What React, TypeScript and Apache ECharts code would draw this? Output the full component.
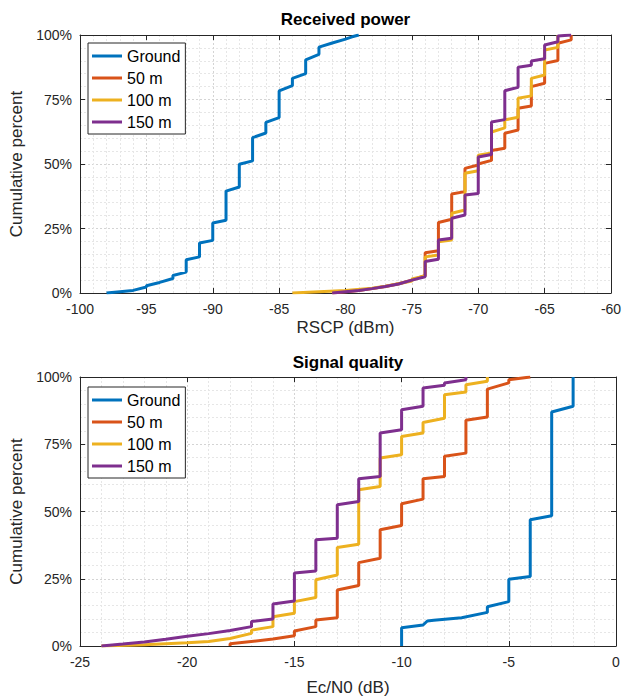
import React, { useEffect, useRef } from "react";
import * as echarts from "echarts";

const seriesNames = ["Ground", "50 m", "100 m", "150 m"];
const colors = ["#0072BD", "#D95319", "#EDB120", "#7E2F8E"];

// Received power (RSCP, dBm) vs cumulative percent
const rscpGround = [[-98,0],[-96,1],[-95,2.3],[-95,2.8],[-94,4.1],[-93,5.6],[-93,6.8],[-92,8.1],[-92,12.9],[-91,14],[-91,19.4],[-90,20.4],[-90,27.1],[-89,28.2],[-89,39.5],[-88,41.1],[-88,49.9],[-87,51.2],[-87,60.2],[-86,62],[-86,66.1],[-85,68],[-85,78.3],[-84,80.4],[-84,83.2],[-83,85],[-83,90.4],[-82,92.5],[-82,95.3],[-81,96.9],[-80,98.4],[-79.5,99.3],[-79,100]];
const rscp50 = [[-81,0],[-80,0.5],[-79,1],[-78,1.7],[-77,2.5],[-76,3.6],[-75,5],[-74,6.8],[-74,15.6],[-73,16.4],[-73,27.3],[-72,28.6],[-72,38.4],[-71,39.3],[-71,48.3],[-70,49.6],[-70,50],[-69,51.4],[-69,55.2],[-68,56.1],[-68,61.9],[-67,63.2],[-67,71.6],[-66,72.5],[-66,80],[-65,81.3],[-65,89],[-64,90.1],[-64,96.8],[-63,98.1],[-63,100]];
const rscp100 = [[-84,0],[-82,0.5],[-80,1],[-78,1.8],[-77,2.6],[-76,3.6],[-75,4.6],[-75,5.4],[-74,6.6],[-74,14],[-73,14.7],[-73,19.9],[-72,20.5],[-72,30.9],[-71,32.2],[-71,46.4],[-70,47.4],[-70,53.4],[-69,54.3],[-69,62.4],[-68,64],[-68,67.1],[-67,68.1],[-67,75.5],[-66,76.4],[-66,83.2],[-65,84.5],[-65,94.2],[-64,95.2],[-64,100]];
const rscp150 = [[-81,0],[-80,0.5],[-79,1],[-78,1.7],[-77,2.5],[-76,3.5],[-75,5],[-74,6.3],[-74,12.2],[-73,13.1],[-73,20.5],[-72,21.2],[-72,29],[-71,30.2],[-71,38],[-70,38.6],[-70,52.7],[-69,53.7],[-69,66.3],[-68,67.2],[-68,78.4],[-67,79.7],[-67,87.5],[-66,88.3],[-66,89.9],[-65,90.8],[-65,96.1],[-64,97.4],[-64,99.6],[-63,100]];

// Signal quality (Ec/N0, dB) vs cumulative percent
const ecnoGround = [[-10,0],[-10,6.8],[-9,7.8],[-8.8,9.3],[-8.5,9.6],[-7.2,10.5],[-6,12.5],[-6,14.6],[-5,16.5],[-5,24.8],[-4,25.8],[-4,46.9],[-3,48.4],[-3,87],[-2,89.1],[-2,100]];
const ecno50 = [[-18,0],[-18,0.8],[-16,2.6],[-15,3.8],[-15,5.6],[-14,7.2],[-14,9.7],[-13,10.5],[-13,20.8],[-12,22.5],[-12,31],[-11,32.6],[-11,43.2],[-10,44.8],[-10,52.9],[-9,54.6],[-9,62.2],[-8,63],[-8,70.5],[-7,71.7],[-7,83.9],[-6,85.1],[-6,95.5],[-5,97.8],[-5,99],[-4,100]];
const ecno100 = [[-24,0],[-22,0.5],[-20,1.2],[-19,1.7],[-18,2.8],[-17,4.7],[-17,5.9],[-16,7.2],[-16,10.9],[-15,12.2],[-15,16.5],[-14,18],[-14,24.6],[-13,26.4],[-13,36.6],[-12,37.8],[-12,58.1],[-11,59.3],[-11,69.9],[-10,71.1],[-10,77.9],[-9,79.2],[-9,83.1],[-8,84.7],[-8,93.4],[-7,94.4],[-7,97.1],[-6,98.4],[-6,100]];
const ecno150 = [[-24,0],[-23,0.7],[-22,1.5],[-21,2.5],[-20,3.6],[-19,4.6],[-18,5.8],[-17,7.2],[-17,9.1],[-16,10],[-16,15.6],[-15,16.7],[-15,27.1],[-14,27.9],[-14,39.5],[-13,40.1],[-13,52.5],[-12,53.7],[-12,62.2],[-11,63],[-11,79.2],[-10,80.4],[-10,87.8],[-9,89.1],[-9,95.9],[-8,96.9],[-8,97.8],[-7,99],[-7,100]];

const topTitle = "Received power";
const bottomTitle = "Signal quality";
const topXName = "RSCP (dBm)";
const bottomXName = "Ec/N0 (dB)";
const yName = "Cumulative percent";

const FONT = "'Liberation Sans', Arial, Helvetica, sans-serif";
const AX = "#262626";

function xAxes(gridIndex: number, min: number, max: number, name: string, title: string, nameGap: number, titleGap: number) {
  const common = {
    gridIndex,
    type: "value",
    min,
    max,
    interval: 5,
    axisLine: { show: true, onZero: false, lineStyle: { color: AX, width: 1 } },
    axisTick: { show: true, inside: true, length: 5, lineStyle: { color: AX } },
    minorTick: { show: false, splitNumber: 5 },
  };
  return [
    {
      ...common,
      position: "bottom",
      name,
      nameLocation: "middle",
      nameGap,
      nameTextStyle: { fontSize: 17, color: AX, fontFamily: FONT },
      axisLabel: { fontSize: 14, color: AX, fontFamily: FONT, margin: 9 },
      splitLine: { show: true, lineStyle: { color: "#d4d4d4", type: [2, 2], width: 1 } },
      minorSplitLine: { show: true, lineStyle: { color: "#e6e6e6", type: [2, 2], width: 1 } },
    },
    {
      ...common,
      position: "top",
      name: title,
      nameLocation: "middle",
      nameGap: titleGap,
      nameTextStyle: { fontSize: 17, fontWeight: "bold", color: "#000", fontFamily: FONT },
      axisLabel: { show: false },
      splitLine: { show: false },
    },
  ];
}

function yAxes(gridIndex: number) {
  const common = {
    gridIndex,
    type: "value",
    min: 0,
    max: 100,
    interval: 25,
    axisLine: { show: true, onZero: false, lineStyle: { color: AX, width: 1 } },
    axisTick: { show: true, inside: true, length: 5, lineStyle: { color: AX } },
    minorTick: { show: false, splitNumber: 5 },
  };
  return [
    {
      ...common,
      position: "left",
      name: yName,
      nameLocation: "middle",
      nameGap: 50,
      nameTextStyle: { fontSize: 17, color: AX, fontFamily: FONT },
      axisLabel: { fontSize: 14, color: AX, fontFamily: FONT, margin: 8, formatter: "{value}%" },
      splitLine: { show: true, lineStyle: { color: "#d4d4d4", type: [2, 2], width: 1 } },
      minorSplitLine: { show: true, lineStyle: { color: "#e6e6e6", type: [2, 2], width: 1 } },
    },
    {
      ...common,
      position: "right",
      axisLabel: { show: false },
      splitLine: { show: false },
    },
  ];
}

function legendAt(top: number) {
  return {
    orient: "vertical",
    left: 88,
    top,
    data: seriesNames,
    icon: "rect",
    itemWidth: 30,
    itemHeight: 3,
    itemGap: 6,
    padding: [5, 5, 4, 4],
    backgroundColor: "#ffffff",
    borderColor: AX,
    borderWidth: 1,
    borderRadius: 0,
    selectedMode: false,
    textStyle: { fontSize: 16, color: "#000", fontFamily: FONT, lineHeight: 16 },
  };
}

export default function App() {
  const ref = useRef<HTMLDivElement>(null);
  useEffect(() => {
    if (!ref.current) return;
    const chart = echarts.init(ref.current, undefined, { renderer: "svg" });
    const topData = [rscpGround, rscp50, rscp100, rscp150];
    const botData = [ecnoGround, ecno50, ecno100, ecno150];
    const series: any[] = [];
    topData.forEach((d, i) => {
      series.push({
        name: seriesNames[i],
        type: "line",
        xAxisIndex: 0,
        yAxisIndex: 0,
        data: d,
        symbol: "none",
        color: colors[i],
        lineStyle: { color: colors[i], width: 3 },
      });
    });
    botData.forEach((d, i) => {
      series.push({
        name: seriesNames[i],
        type: "line",
        xAxisIndex: 2,
        yAxisIndex: 2,
        data: d,
        symbol: "none",
        color: colors[i],
        lineStyle: { color: colors[i], width: 3 },
      });
    });
    chart.setOption({
      animation: false,
      backgroundColor: "#ffffff",
      textStyle: { fontFamily: FONT },
      grid: [
        { left: 80, right: 14, top: 35, height: 258, containLabel: false },
        { left: 80, right: 9, top: 377, height: 269, containLabel: false },
      ],
      xAxis: [
        ...xAxes(0, -100, -60, topXName, topTitle, 26, 7),
        ...xAxes(1, -25, 0, bottomXName, bottomTitle, 33, 6),
      ],
      yAxis: [...yAxes(0), ...yAxes(1)],
      legend: [legendAt(43), legendAt(387)],
      series,
    });
    return () => chart.dispose();
  }, []);
  return (
    <div
      ref={ref}
      style={{ position: "fixed", left: 0, top: 0, width: 625, height: 698, background: "#fff" }}
    />
  );
}
